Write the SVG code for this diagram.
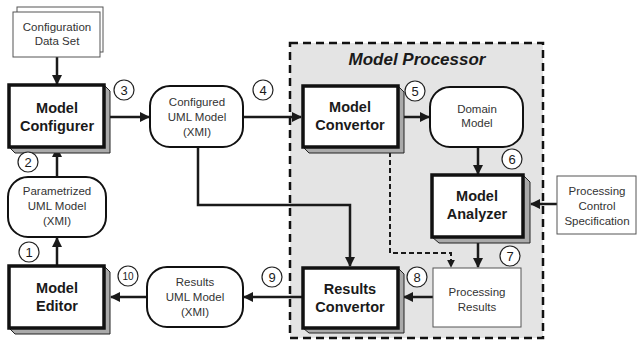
<svg xmlns="http://www.w3.org/2000/svg" width="638" height="343" viewBox="0 0 638 343">
<defs>
<marker id="ah" viewBox="0 0 10 10" refX="9" refY="5" markerWidth="10" markerHeight="10" markerUnits="userSpaceOnUse" orient="auto">
<path d="M0,0 L10,5 L0,10 z" fill="#1a1a1a"/>
</marker>
<marker id="ahs" viewBox="0 0 10 10" refX="9" refY="5" markerWidth="8" markerHeight="8" markerUnits="userSpaceOnUse" orient="auto">
<path d="M0,0 L10,5 L0,10 z" fill="#1a1a1a"/>
</marker>
</defs>
<style>
text{font-family:"Liberation Sans",Arial,sans-serif;fill:#1a1a1a;text-anchor:middle}
.b{font-weight:bold;font-size:14.5px}
.s{font-size:11.5px;fill:#333}
.n{font-size:13px;fill:#1a1a1a}
.box{fill:#fff;stroke:#111;stroke-width:3.5}
.sh{fill:#aaa;stroke:#222;stroke-width:1}
.rr{fill:#fff;stroke:#111;stroke-width:2}
.doc{fill:#fff;stroke:#555;stroke-width:1}
.c{fill:#fff;stroke:#222;stroke-width:1.2}
.ln{fill:none;stroke:#1a1a1a;stroke-width:2.5}
.dl{fill:none;stroke:#1a1a1a;stroke-width:2;stroke-dasharray:5,3}
</style>
<rect width="638" height="343" fill="#fff"/>

<g id="model-processor">
<rect x="290" y="43" width="253" height="295" fill="#e4e4e4" stroke="#111" stroke-width="2.5" stroke-dasharray="8,5"/>
<text x="417" y="65" style="font-weight:bold;font-style:italic;font-size:17px">Model Processor</text>
</g>

<g id="connectors">
<line class="ln" x1="57" y1="57" x2="57" y2="84" marker-end="url(#ah)"/>
<line class="ln" x1="110" y1="117" x2="149" y2="117" marker-end="url(#ah)"/>
<line class="ln" x1="243" y1="117" x2="301" y2="117" marker-end="url(#ah)"/>
<line class="ln" x1="403" y1="117" x2="429" y2="117" marker-end="url(#ah)"/>
<line class="ln" x1="478" y1="147" x2="478" y2="174" marker-end="url(#ah)"/>
<line class="ln" x1="557" y1="204" x2="531" y2="204" marker-end="url(#ah)"/>
<line class="ln" x1="478" y1="242" x2="478" y2="267" marker-end="url(#ah)"/>
<polyline class="dl" points="390,152 390,253 451,253 451,267" marker-end="url(#ahs)"/>
<polyline class="ln" points="198,147 198,205 350,205 350,266" marker-end="url(#ah)"/>
<line class="ln" x1="433" y1="297" x2="404" y2="297" marker-end="url(#ah)"/>
<line class="ln" x1="303" y1="297" x2="244" y2="297" marker-end="url(#ah)"/>
<line class="ln" x1="147" y1="297" x2="111" y2="297" marker-end="url(#ah)"/>
<line class="ln" x1="57" y1="266" x2="57" y2="238" marker-end="url(#ah)"/>
<line class="ln" x1="57" y1="177" x2="57" y2="148" marker-end="url(#ah)"/>
</g>

<g id="configuration-data-set">
<rect class="doc" x="17" y="7" width="86" height="45"/>
<rect class="doc" x="13" y="12" width="87" height="45"/>
<text class="s" x="57" y="31">Configuration</text>
<text class="s" x="57" y="45">Data Set</text>
</g>

<g id="model-configurer">
<polygon class="sh" points="104,85 110,91 110,153 15,153 9,147 104,147"/>
<rect class="box" x="9" y="85" width="95" height="62"/>
<text class="b" x="57" y="113">Model</text>
<text class="b" x="57" y="131">Configurer</text>
</g>

<g id="configured-uml-model">
<rect class="rr" x="150" y="86" width="93" height="61" rx="20"/>
<text class="s" x="197" y="106">Configured</text>
<text class="s" x="197" y="121">UML Model</text>
<text class="s" x="197" y="136">(XMI)</text>
</g>

<g id="model-convertor">
<polygon class="sh" points="398,86 404,92 404,153 309,153 303,147 398,147"/>
<rect class="box" x="303" y="86" width="95" height="61"/>
<text class="b" x="350" y="112">Model</text>
<text class="b" x="350" y="130">Convertor</text>
</g>

<g id="domain-model">
<rect class="rr" x="430" y="87" width="93" height="60" rx="20"/>
<text class="s" x="477" y="113">Domain</text>
<text class="s" x="477" y="127">Model</text>
</g>

<g id="model-analyzer">
<polygon class="sh" points="523,175 530,182 530,243 439,243 432,237 523,237"/>
<rect class="box" x="432" y="175" width="91" height="62"/>
<text class="b" x="477" y="201">Model</text>
<text class="b" x="477" y="219">Analyzer</text>
</g>

<g id="processing-control-specification">
<rect class="doc" x="557" y="176" width="79" height="58"/>
<text class="s" x="597" y="195">Processing</text>
<text class="s" x="597" y="210">Control</text>
<text class="s" x="597" y="225">Specification</text>
</g>

<g id="processing-results">
<rect class="doc" x="433" y="268" width="88" height="59"/>
<text class="s" x="477" y="296">Processing</text>
<text class="s" x="477" y="311">Results</text>
</g>

<g id="results-convertor">
<polygon class="sh" points="398,268 404,274 404,333 309,333 303,328 398,328"/>
<rect class="box" x="303" y="268" width="95" height="60"/>
<text class="b" x="350" y="294">Results</text>
<text class="b" x="350" y="312">Convertor</text>
</g>

<g id="results-uml-model">
<rect class="rr" x="147" y="267" width="96" height="60" rx="20"/>
<text class="s" x="195" y="286">Results</text>
<text class="s" x="195" y="301">UML Model</text>
<text class="s" x="195" y="316">(XMI)</text>
</g>

<g id="model-editor">
<polygon class="sh" points="104,266 110,272 110,334 15,334 9,328 104,328"/>
<rect class="box" x="9" y="266" width="95" height="62"/>
<text class="b" x="57" y="293">Model</text>
<text class="b" x="57" y="311">Editor</text>
</g>

<g id="parametrized-uml-model">
<rect class="rr" x="8" y="177" width="98" height="60" rx="20"/>
<text class="s" x="57" y="195">Parametrized</text>
<text class="s" x="57" y="210">UML Model</text>
<text class="s" x="57" y="225">(XMI)</text>
</g>

<g id="step-numbers">
<circle class="c" cx="29" cy="252" r="10"/><text class="n" x="29" y="257">1</text>
<circle class="c" cx="28" cy="162" r="10"/><text class="n" x="28" y="167">2</text>
<circle class="c" cx="124" cy="90" r="10"/><text class="n" x="124" y="95">3</text>
<circle class="c" cx="263" cy="90" r="10"/><text class="n" x="263" y="95">4</text>
<circle class="c" cx="415" cy="91" r="10"/><text class="n" x="415" y="96">5</text>
<circle class="c" cx="512" cy="159" r="10"/><text class="n" x="512" y="164">6</text>
<circle class="c" cx="510" cy="256" r="10"/><text class="n" x="510" y="261">7</text>
<circle class="c" cx="417" cy="277" r="10"/><text class="n" x="417" y="282">8</text>
<circle class="c" cx="272" cy="277" r="10"/><text class="n" x="272" y="282">9</text>
<circle class="c" cx="128" cy="276" r="10"/><text class="n" x="128" y="280" style="font-size:10px">10</text>
</g>
</svg>
